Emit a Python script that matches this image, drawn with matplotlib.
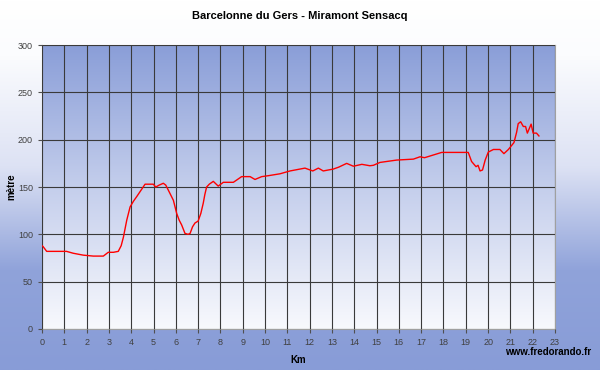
import numpy as np
import matplotlib
matplotlib.use("Agg")
import matplotlib.pyplot as plt
from matplotlib.colors import LinearSegmentedColormap

plt.rcParams['font.family'] = ['Liberation Sans', 'DejaVu Sans']

title = "Barcelonne du Gers - Miramont Sensacq"
km = [0.0, 0.05, 0.21, 0.6, 1.1, 1.4, 1.85, 2.3, 2.75, 2.97, 3.2, 3.42, 3.55, 3.65,
      3.8, 3.95, 4.1, 4.25, 4.45, 4.62, 4.8, 4.99, 5.1, 5.25, 5.44, 5.55, 5.7, 5.89,
      6.04, 6.15, 6.26, 6.41, 6.55, 6.64, 6.75, 6.86, 7.0, 7.12, 7.23, 7.3, 7.38,
      7.5, 7.68, 7.9, 8.13, 8.58, 8.95, 9.33, 9.55, 9.85, 10.15, 10.67, 11.12,
      11.79, 12.14, 12.39, 12.61, 13.06, 13.3, 13.66, 13.96, 14.34, 14.7, 14.86,
      15.15, 15.9, 16.65, 16.95, 17.15, 17.92, 19.11, 19.26, 19.46, 19.55, 19.64,
      19.75, 19.87, 20.01, 20.24, 20.53, 20.71, 20.91, 21.16, 21.28, 21.35, 21.46,
      21.58, 21.68, 21.76, 21.85, 21.93, 22.02, 22.17, 22.28]
alt = [88, 87, 82, 82, 82, 80, 78, 77, 77, 81, 81, 82, 88, 97,
       115, 129, 135, 140, 147, 153, 153, 153, 150, 152, 154, 152, 145, 136,
       122, 115, 110, 101, 100, 101, 108, 112, 114, 122, 133, 142, 150,
       153, 156, 151, 155, 155, 161, 161, 158, 161, 162, 164, 167,
       170, 167, 170, 167, 169, 171, 175, 172, 174, 172.5, 173,
       176, 178.5, 179.5, 182, 181, 186.6, 186.6, 177, 171.5, 173, 167,
       168, 178.5, 187, 189.7, 189.7, 185.3, 189.7, 197, 208, 217, 219,
       214, 214, 207, 212, 216.5, 207, 207, 204]

xticks = list(range(0, 24))
yticks = [0, 50, 100, 150, 200, 250, 300]

fig = plt.figure(figsize=(6, 3.7), dpi=100)

# outer background gradient (white top -> blue bottom)
bg = fig.add_axes([0, 0, 1, 1], zorder=-10)
outer = LinearSegmentedColormap.from_list(
    "outer", [(0, "#ffffff"), (0.15, "#fbfcfe"), (0.45, "#dde2f4"),
              (0.73, "#90a3da"), (1, "#889cd7")])
bg.imshow(np.linspace(0, 1, 256).reshape(-1, 1), aspect='auto', cmap=outer,
          extent=[0, 1, 0, 1], origin='upper')
bg.axis('off')

ax = fig.add_axes([0.07, 0.111, 0.855, 0.767])
inner = LinearSegmentedColormap.from_list("inner", ["#8a9ed8", "#c4ceec", "#f8f9fd"])
ax.imshow(np.linspace(0, 1, 256).reshape(-1, 1), aspect='auto', cmap=inner,
          extent=[0, 23, 0, 300], origin='upper', zorder=0)

ax.plot(km, alt, color='#ff0000', linewidth=1, zorder=3)

ax.set_xlim(0, 23)
ax.set_ylim(0, 300)
ax.set_xticks(xticks)
ax.set_yticks(yticks)
ax.grid(True, color='#3a3a3a', linewidth=0.8, zorder=1)
ax.set_axisbelow(False)
for s in ax.spines.values():
    s.set_color('#a0a0a0')
ax.tick_params(axis='both', labelsize=6.5, colors='#505050', length=3, width=0.8,
               labelcolor='#404040')

fig.text(0.5, 0.958, title, fontsize=8, fontweight='bold', ha='center', va='center')
ax.set_xlabel("Km", fontsize=7, fontweight='bold')
ax.set_ylabel("mètre", fontsize=7, fontweight='bold')
ax.xaxis.set_label_coords(0.5, -0.092)
ax.yaxis.set_label_coords(-0.05, 0.5)
fig.text(0.985, 0.048, "www.fredorando.fr", fontsize=7, fontweight='bold',
         ha='right', va='center')

fig.savefig("out.png", dpi=100)
